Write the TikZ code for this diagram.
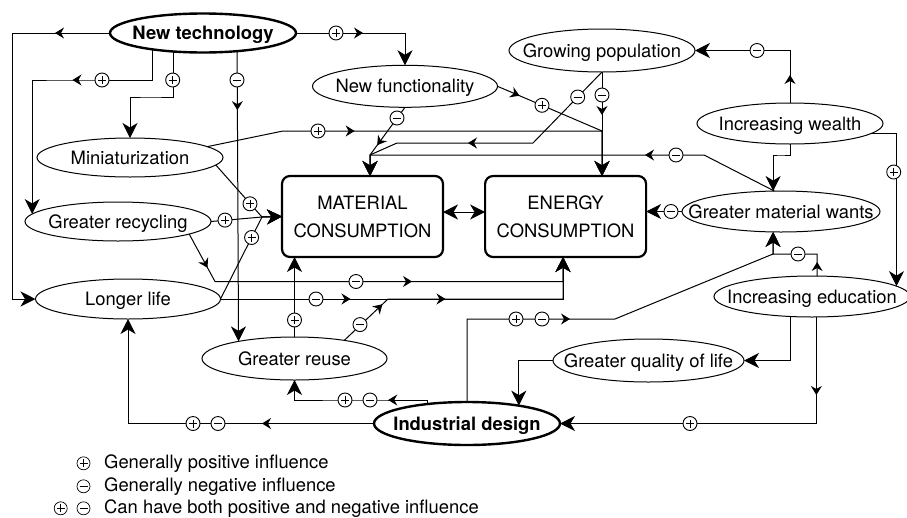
\documentclass[tikz,border=0pt]{standalone}
\usepackage{fontspec}
\setmainfont{TeX Gyre Heros}
\usetikzlibrary{arrows.meta,shapes.geometric,decorations.markings}
\newcommand{\mkc}[1]{\makebox[0pt]{#1}}
\tikzset{
  bigtip/.tip={Stealth[length=15pt,width=15pt,inset=4.5pt]},
  conn/.style={line width=1pt,-{bigtip}},
  marr/.style={postaction={decorate,decoration={markings,mark=at position #1 with {\arrow{Stealth[length=9pt,width=11pt,inset=3pt]}}}}},
  ell/.style={ellipse,draw,line width=1pt,fill=white,inner sep=0pt,outer sep=0pt,text height=13pt,text depth=0pt,font=\fontsize{18.4}{22}\selectfont},
  ellb/.style={ell,line width=2.4pt,font=\fontsize{18.4}{22}\selectfont\bfseries},
  cbox/.style={rectangle,draw,rounded corners=8pt,line width=2.2pt,fill=white,minimum width=161pt,minimum height=81pt,inner sep=0pt,outer sep=0pt,align=center,font=\fontsize{18.4}{28}\selectfont},
  sg/.style={circle,draw,fill=white,line width=0.9pt,minimum size=14pt,inner sep=0pt,outer sep=0pt},
  sgp/.style={sg,path picture={\draw[line width=0.9pt] ([xshift=-4pt]path picture bounding box.center) -- ([xshift=4pt]path picture bounding box.center) ([yshift=-4pt]path picture bounding box.center) -- ([yshift=4pt]path picture bounding box.center);}},
  sgm/.style={sg,path picture={\draw[line width=0.9pt] ([xshift=-4pt]path picture bounding box.center) -- ([xshift=4pt]path picture bounding box.center);}},
  lgs/.style={line width=0.7pt,minimum size=13pt},
  legtext/.style={anchor=base west,inner sep=0pt,font=\fontsize{18.4}{22}\selectfont}
}
\begin{document}
\begin{tikzpicture}[x=1pt,y=-1pt]
\fill[white] (0,0) rectangle (907,517);
\useasboundingbox (0,0) rectangle (907,517);

% nodes
\node[ellb, minimum width=186pt, minimum height=39pt] (nt) at (203,33) {\mkc{New technology}};
\node[ell, minimum width=185pt, minimum height=42pt] (nf) at (405,86.3) {\mkc{New functionality}};
\node[ell, minimum width=186pt, minimum height=43pt] (gp) at (602,50.5) {\mkc{Growing population}};
\node[ell, minimum width=186pt, minimum height=41pt] (iw) at (790,123.5) {\mkc{Increasing wealth}};
\node[ell, minimum width=198pt, minimum height=41pt] (gmw) at (781,211.5) {\mkc{Greater material wants}};
\node[ell, minimum width=186pt, minimum height=39pt] (mini) at (130,157.5) {\mkc{Miniaturization}};
\node[ell, minimum width=186pt, minimum height=39pt] (grc) at (118,221.5) {\mkc{Greater recycling}};
\node[ell, minimum width=185pt, minimum height=40pt] (ll) at (128,299) {\mkc{Longer life}};
\node[ell, minimum width=185pt, minimum height=43pt] (gru) at (294.5,358.5) {\mkc{Greater reuse}};
\node[ell, minimum width=191pt, minimum height=43pt] (gql) at (648.5,360.5) {\mkc{Greater quality of life}};
\node[ell, minimum width=196pt, minimum height=41pt] (ie) at (812,296.5) {\mkc{Increasing education}};
\node[ellb, minimum width=186pt, minimum height=43pt] (id) at (467,423.5) {\mkc{Industrial design}};
\node[cbox] (mc) at (362.5,216.5) {MATERIAL\\CONSUMPTION};
\node[cbox] (ec) at (565.6,216.5) {ENERGY\\CONSUMPTION};

% junctions
\coordinate (j1) at (370,155);
\coordinate (j1e) at (j1 |- mc.north);
\coordinate (j2) at (262,217);
\coordinate (j3) at (602,131);
\coordinate (j3e) at (j3 |- ec.north);
\coordinate (j4) at (563,281.5);
\coordinate (j4e) at (j4 |- ec.south);
\coordinate (j5) at (773,254);

% connectors
\draw[conn,marr=55pt] (nt.west) -| (12.5,150) |- (ll);
\draw[conn,marr=110.7pt] (nt.-162.27) |- (60,80) -| (grc.175.07);
\draw[conn] (nt.-148.67) |- (150,97) -| (mini.north);
\draw[conn,marr=59pt] (nt.-28.1) -- (gru.163.68);
\draw[conn,marr=67pt] (nt.east) -| (nf.north);
\draw[conn,marr=47pt] (nf.south) -- (j1) -- (j1e);
\draw[conn,marr=149pt] (mini.8.74) -- (283,131) -- (j3) -- (j3e);
\draw[conn,marr=24pt] (nf.east) -- (j3) -- (j3e);
\draw[conn,marr=43pt] (gp.south) -- (j3e);
\draw[conn,marr=164pt] (gp.south) -- (533,143) -- (397,143) -- (j1) -- (j1e);
\draw[conn,marr=138pt] (gmw.108.9) -- (704,155) -- (j1) -- (j1e);
\draw[conn,marr=28pt] (iw.north) |- (gp);
\draw[conn] (iw.south) |- (780,155) -| (gmw.111.4);
\draw[conn] (iw.-7.45) -| (ie.7.89);
\draw[conn,marr=14pt] (ie.76.3) |- (j5) -- (gmw.-111.4);
\draw[conn,marr=186pt] (id.north) |- (615,319) -- (j5) -- (gmw.-111.4);
\draw[conn] (ie.-137.76) |- (gql);
\draw[conn,marr=78pt] (ie.-78.9) |- (id);
\draw[conn] (gql.west) -| (id.19.42);
\draw[conn,marr=43pt] (id.154.12) |- (350,400) -| (gru.south);
\draw[conn,marr=112pt] (id.west) -| (ll.south);
\draw[conn] (grc.east) -- (j2) -- (mc.west);
\draw[conn] (mini.-5.35) -- (j2) -- (mc.west);
\draw[conn] (ll.east) -- (j2) -- (mc.west);
\draw[conn,marr=38.4pt,marr=251pt] (grc.-10.73) -- (215,281.5) -- (j4) -- (j4e);
\draw[conn,marr=130pt,marr=225pt] (ll.east) -| (j4e);
\draw[conn,marr=52.5pt] (gru.20.67) -- (388,299) -| (j4e);
\draw[conn] (gru.north) -- (gru.north |- mc.south);
\draw[conn] (gmw.west) -- (gmw.west -| ec.east);
\draw[line width=1pt,{bigtip}-{bigtip}] ([yshift=4.5pt]mc.east) -- ([yshift=4.5pt]ec.west);

% signs
\node[sgp] (s1) at (102,80) {};
\node[sgp] (s2) at (172.7,80) {};
\node[sgm] (s3) at (237,80) {};
\node[sgp] (s4) at (336,33) {};
\node[sgm] (s5) at (397,118) {};
\node[sgp] (s6) at (318,131) {};
\node[sgp] (s7) at (542,105.3) {};
\node[sgm] (s8) at (602,95) {};
\node[sgm] (s9) at (577.7,97) {};
\node[sgm] (s10) at (676,155) {};
\node[sgm] (s11) at (757,50.5) {};
\node[sgp] (s12) at (893.7,172) {};
\node[sgm] (s13) at (671,211.5) {};
\node[sgp] (s14) at (225,220.1) {};
\node[sgp] (s15) at (250,203.8) {};
\node[sgp] (s16) at (251.6,237.5) {};
\node[sgm] (s17) at (356,281.5) {};
\node[sgm] (s18) at (316,299) {};
\node[sgp] (s19) at (294.5,320) {};
\node[sgm] (s20) at (360,324.6) {};
\node[sgp] (s21) at (345,400) {};
\node[sgm] (s22) at (370,400) {};
\node[sgp] (s23) at (193,423.5) {};
\node[sgm] (s24) at (218,423.5) {};
\node[sgp] (s25) at (516,319) {};
\node[sgm] (s26) at (542,319) {};
\node[sgm] (s27) at (798,254) {};
\node[sgp] (s28) at (690,423.5) {};

% legend
\node[sgp,lgs] (l1) at (83.5,463.3) {};
\node[legtext] (t1) at (104,468.8) {Generally positive influence};
\node[sgm,lgs] (l2) at (83.5,486.3) {};
\node[legtext] (t2) at (104,491.3) {Generally negative influence};
\node[sgp,lgs] (l3) at (60.7,508.3) {};
\node[sgm,lgs] (l4) at (83.5,508.3) {};
\node[legtext] (t3) at (104,513) {Can have both positive and negative influence};
\end{tikzpicture}
\end{document}
